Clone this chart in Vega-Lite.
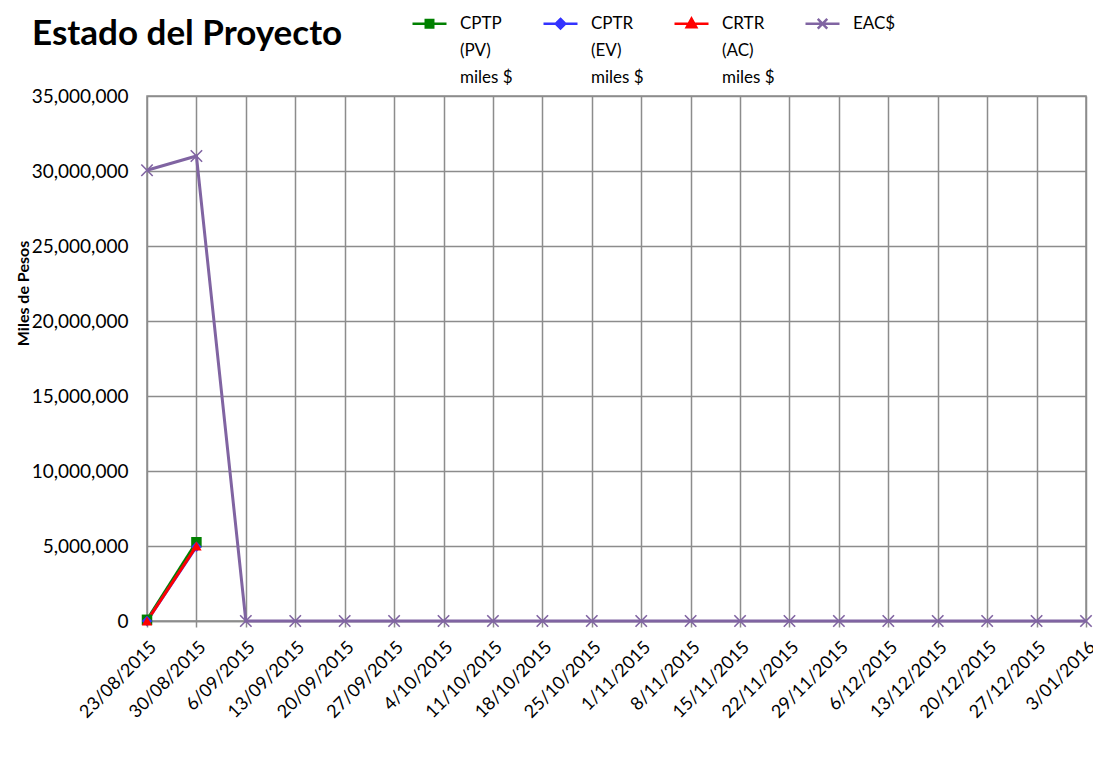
{
  "$schema": "https://vega.github.io/schema/vega-lite/v6.json",
  "autosize": {"type": "none"},
  "padding": {"left": 147, "top": 96, "right": 7, "bottom": 144},
  "width": 939,
  "height": 525,
  "background": "white",
  "config": {
    "font": "Lato",
    "view": {"stroke": "#8c8c8c", "strokeWidth": 1.5}
  },
  "title": {
    "text": "Estado del Proyecto",
    "anchor": "start",
    "frame": "group",
    "dx": -115,
    "offset": 0,
    "dy": 47,
    "fontSize": 35,
    "fontWeight": "bold",
    "font": "Lato",
    "color": "#000000"
  },
  "data": {
    "values": [
      {"date": "23/08/2015", "series": "CPTP|(PV)|miles $", "value": 80000},
      {"date": "30/08/2015", "series": "CPTP|(PV)|miles $", "value": 5250000},
      {"date": "23/08/2015", "series": "CPTR|(EV)|miles $", "value": 0},
      {"date": "30/08/2015", "series": "CPTR|(EV)|miles $", "value": 4950000},
      {"date": "23/08/2015", "series": "CRTR|(AC)|miles $", "value": 0},
      {"date": "30/08/2015", "series": "CRTR|(AC)|miles $", "value": 5000000},
      {"date": "23/08/2015", "series": "EAC$", "value": 30050000},
      {"date": "30/08/2015", "series": "EAC$", "value": 31000000},
      {"date": "6/09/2015", "series": "EAC$", "value": 0},
      {"date": "13/09/2015", "series": "EAC$", "value": 0},
      {"date": "20/09/2015", "series": "EAC$", "value": 0},
      {"date": "27/09/2015", "series": "EAC$", "value": 0},
      {"date": "4/10/2015", "series": "EAC$", "value": 0},
      {"date": "11/10/2015", "series": "EAC$", "value": 0},
      {"date": "18/10/2015", "series": "EAC$", "value": 0},
      {"date": "25/10/2015", "series": "EAC$", "value": 0},
      {"date": "1/11/2015", "series": "EAC$", "value": 0},
      {"date": "8/11/2015", "series": "EAC$", "value": 0},
      {"date": "15/11/2015", "series": "EAC$", "value": 0},
      {"date": "22/11/2015", "series": "EAC$", "value": 0},
      {"date": "29/11/2015", "series": "EAC$", "value": 0},
      {"date": "6/12/2015", "series": "EAC$", "value": 0},
      {"date": "13/12/2015", "series": "EAC$", "value": 0},
      {"date": "20/12/2015", "series": "EAC$", "value": 0},
      {"date": "27/12/2015", "series": "EAC$", "value": 0},
      {"date": "3/01/2016", "series": "EAC$", "value": 0}
    ]
  },
  "encoding": {
    "x": {
      "field": "date",
      "type": "ordinal",
      "sort": null,
      "scale": {
        "type": "point",
        "padding": 0,
        "domain": ["23/08/2015","30/08/2015","6/09/2015","13/09/2015","20/09/2015","27/09/2015","4/10/2015","11/10/2015","18/10/2015","25/10/2015","1/11/2015","8/11/2015","15/11/2015","22/11/2015","29/11/2015","6/12/2015","13/12/2015","20/12/2015","27/12/2015","3/01/2016"]
      },
      "axis": {
        "title": null,
        "labelAngle": -45,
        "labelFontSize": 18,
        "labelColor": "#000000",
        "labelPadding": 11,
        "grid": true,
        "gridColor": "#8c8c8c",
        "gridWidth": 1.5,
        "domainColor": "#8c8c8c",
        "domainWidth": 1.5,
        "tickColor": "#8c8c8c",
        "tickSize": 6,
        "tickWidth": 1.5,
        "labelOverlap": false
      }
    },
    "y": {
      "field": "value",
      "type": "quantitative",
      "scale": {"domain": [0, 35000000], "nice": false},
      "axis": {
        "title": "Miles de Pesos",
        "titleFontSize": 16,
        "titleFontWeight": "bold",
        "titleColor": "#000000",
        "titleX": -124,
        "titleY": 197,
        "titleAngle": -90,
        "titleAlign": "center",
        "titleBaseline": "middle",
        "values": [0, 5000000, 10000000, 15000000, 20000000, 25000000, 30000000, 35000000],
        "format": ",.0f",
        "labelFontSize": 19,
        "labelColor": "#000000",
        "labelPadding": 19,
        "ticks": false,
        "domain": false,
        "grid": true,
        "gridColor": "#8c8c8c",
        "gridWidth": 1.5
      }
    }
  },
  "layer": [
    {
      "mark": {"type": "line", "strokeWidth": 3},
      "encoding": {
        "color": {
          "field": "series",
          "type": "nominal",
          "scale": {
            "domain": ["CPTP|(PV)|miles $", "CPTR|(EV)|miles $", "CRTR|(AC)|miles $", "EAC$"],
            "range": ["#008000", "#3333ff", "#ff0000", "#8064a2"]
          },
          "legend": {
            "title": null,
            "orient": "none",
            "direction": "horizontal",
            "columns": 4,
            "gridAlign": "all",
            "columnPadding": 25,
            "legendX": 264,
            "legendY": -91,
            "padding": 0,
            "symbolSize": 1156,
            "symbolStrokeWidth": 2.5,
            "labelFontSize": 17,
            "labelColor": "#000000",
            "labelOffset": 12,
            "labelBaseline": "top",
            "labelLimit": 200,
            "labelExpr": "datum.label == 'EAC$' ? ['EAC$', ' ', ' '] : split(datum.label, '|')",
            "encode": {
              "symbols": {
                "update": {
                  "shape": {"signal": "datum.value == 'EAC$' ? 'M-1,0H1M-0.28,-0.28L0.28,0.28M-0.28,0.28L0.28,-0.28' : datum.value == 'CRTR|(AC)|miles $' ? 'M-1,0H1M0,-0.3L0.28,0.2H-0.28Z' : datum.value == 'CPTR|(EV)|miles $' ? 'M-1,0H1M0,-0.28L0.28,0L0,0.28L-0.28,0Z' : 'M-1,0H1M-0.22,-0.22H0.22V0.22H-0.22Z'"},
                  "fill": {"scale": "color", "field": "value"},
                  "stroke": {"scale": "color", "field": "value"},
                  "strokeWidth": {"value": 2.5},
                  "opacity": {"value": 1}
                }
              },
              "labels": {
                "update": {
                  "lineHeight": {"value": 27},
                  "dy": {"value": -8}
                }
              }
            }
          }
        }
      }
    },
    {
      "transform": [{"filter": "datum.series == 'CPTP|(PV)|miles $'"}],
      "mark": {"type": "point", "filled": true, "size": 110, "shape": "square", "color": "#008000", "opacity": 1}
    },
    {
      "transform": [{"filter": "datum.series == 'CPTR|(EV)|miles $'"}],
      "mark": {"type": "point", "filled": true, "size": 110, "shape": "diamond", "color": "#3333ff", "opacity": 1}
    },
    {
      "transform": [{"filter": "datum.series == 'CRTR|(AC)|miles $'"}],
      "mark": {"type": "point", "filled": true, "size": 110, "shape": "triangle-up", "color": "#ff0000", "opacity": 1}
    },
    {
      "transform": [{"filter": "datum.series == 'EAC$'"}],
      "mark": {"type": "point", "filled": false, "size": 130, "shape": "M-1,-1L1,1M-1,1L1,-1", "color": "#8064a2", "strokeWidth": 1.6, "opacity": 1}
    }
  ]
}
